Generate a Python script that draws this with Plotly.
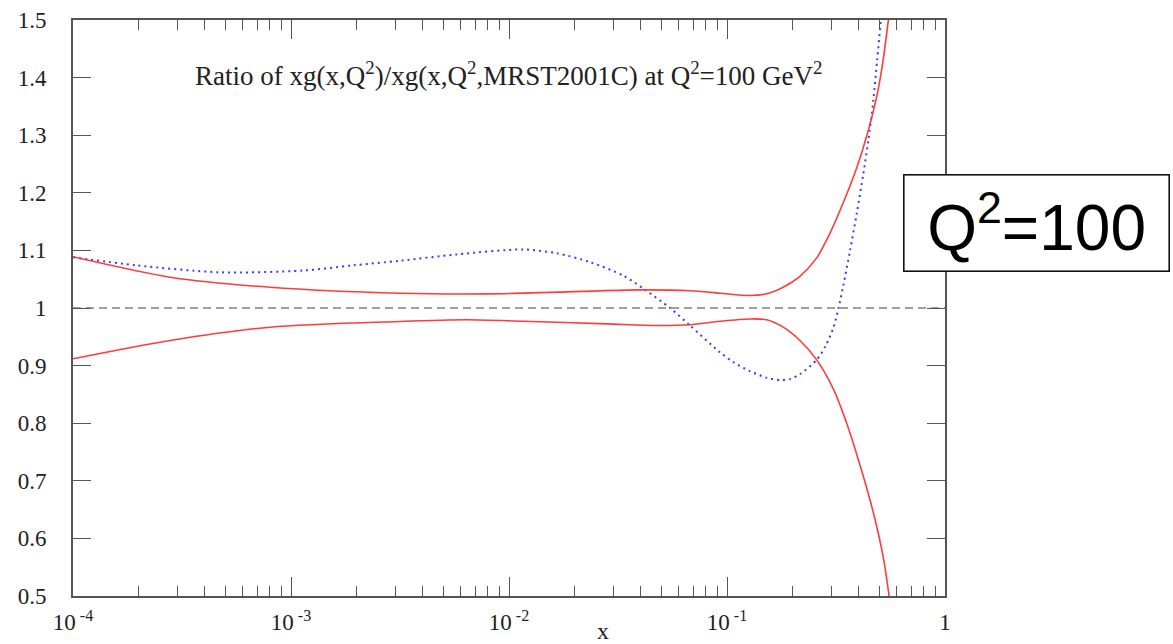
import plotly.graph_objects as go

# Gluon ratio xg(x,Q^2)/xg(x,Q^2,MRST2001C) at Q^2 = 100 GeV^2
# Upper and lower edges of the uncertainty band (red, solid)
band_hi_x = [1e-4, 2.79e-4, 8.02e-4, 3.16e-3, 8.18e-3, 1.66e-2, 3.99e-2, 6.76e-2,
             9.29e-2, 0.128, 0.152, 0.181, 0.216, 0.258, 0.296, 0.345, 0.394,
             0.440, 0.488, 0.520, 0.550, 0.577]
band_hi_y = [1.089, 1.0535, 1.036, 1.0257, 1.0246, 1.0275, 1.0315, 1.030,
             1.0257, 1.0217, 1.0246, 1.036, 1.055, 1.087, 1.129, 1.187, 1.244,
             1.302, 1.37, 1.43, 1.5, 1.56]

band_lo_x = [1e-4, 2.79e-4, 8.02e-4, 3.16e-3, 6.40e-3, 1.16e-2, 2.81e-2, 4.76e-2,
             6.76e-2, 9.29e-2, 0.128, 0.152, 0.181, 0.216, 0.258, 0.307, 0.354,
             0.407, 0.469, 0.521, 0.555, 0.583]
band_lo_y = [0.9118, 0.9436, 0.9667, 0.9766, 0.9795, 0.977, 0.9725, 0.9696,
             0.971, 0.977, 0.981, 0.9795, 0.9667, 0.9436, 0.91, 0.86, 0.80,
             0.728, 0.645, 0.567, 0.498, 0.43]

# Alternative fit (blue, dotted)
alt_x = [1e-4, 1.96e-4, 4.72e-4, 1.135e-3, 1.92e-3, 3.16e-3, 5.75e-3, 1.16e-2,
         1.66e-2, 2.36e-2, 3.35e-2, 4.21e-2, 5.48e-2, 6.76e-2, 9.29e-2, 0.107,
         0.128, 0.152, 0.175, 0.1955, 0.216, 0.258, 0.284, 0.307, 0.325, 0.342,
         0.367, 0.394, 0.422, 0.445, 0.469, 0.488, 0.508, 0.531]
alt_y = [1.088, 1.074, 1.062, 1.065, 1.074, 1.082, 1.093, 1.1016,
         1.095, 1.0795, 1.056, 1.0315, 1.0, 0.9696, 0.923, 0.906,
         0.89, 0.879, 0.875, 0.877, 0.885, 0.91, 0.935, 0.965, 1.0, 1.04,
         1.10, 1.165, 1.233, 1.291, 1.36, 1.43, 1.5, 1.6]

# Reference line at ratio 1
ref_x = [1e-4, 1.0]
ref_y = [1.0, 1.0]

x_tickvals = [1e-4, 1e-3, 1e-2, 1e-1, 1]
x_ticktext = ["10<sup> -4</sup>", "10<sup> -3</sup>", "10<sup> -2</sup>",
              "10<sup> -1</sup>", "1"]
x_minor = [m * 10.0 ** e for e in range(-4, 0) for m in range(2, 10)]
y_tickvals = [0.5, 0.6, 0.7, 0.8, 0.9, 1.0, 1.1, 1.2, 1.3, 1.4, 1.5]
y_ticktext = ["0.5", "0.6", "0.7", "0.8", "0.9", "1", "1.1", "1.2", "1.3", "1.4", "1.5"]

SERIF = "Liberation Serif, Times New Roman, serif"
AXIS_COL = "#555555"
TEXT_COL = "#222222"
RED = "#ff3b3b"
BLUE = "#3b3bff"

fig = go.Figure()
fig.add_trace(go.Scatter(x=ref_x, y=ref_y, mode="lines",
                         line=dict(color="#808080", width=1.6, dash="8px,5px"),
                         hoverinfo="skip"))
fig.add_trace(go.Scatter(x=alt_x, y=alt_y, mode="lines",
                         line=dict(color=BLUE, width=2, dash="2px,4px",
                                   shape="spline", smoothing=0.8)))
fig.add_trace(go.Scatter(x=band_hi_x, y=band_hi_y, mode="lines",
                         line=dict(color=RED, width=1.6, shape="spline", smoothing=0.8)))
fig.add_trace(go.Scatter(x=band_lo_x, y=band_lo_y, mode="lines",
                         line=dict(color=RED, width=1.6, shape="spline", smoothing=0.8)))

fig.update_layout(
    width=1173, height=644,
    margin=dict(l=73, r=228, t=20, b=48),
    paper_bgcolor="white", plot_bgcolor="white",
    showlegend=False,
    font=dict(family=SERIF, size=22, color=TEXT_COL),
)

fig.update_xaxes(
    type="log", range=[-4, 0], automargin=False,
    tickmode="array", tickvals=x_tickvals, ticktext=x_ticktext,
    ticks="inside", ticklen=19, tickwidth=1.2, tickcolor=AXIS_COL,
    minor=dict(tickmode="array", tickvals=x_minor, ticks="inside",
               ticklen=10, tickwidth=1.2, tickcolor=AXIS_COL, showgrid=False),
    showline=True, linecolor=AXIS_COL, linewidth=1.6, mirror="ticks",
    showgrid=False, zeroline=False,
    tickfont=dict(family=SERIF, size=23, color=TEXT_COL),
    ticklabelstandoff=5,
)
fig.update_yaxes(
    range=[0.5, 1.5], automargin=False,
    tickmode="array", tickvals=y_tickvals, ticktext=y_ticktext,
    ticks="inside", ticklen=18, tickwidth=1.2, tickcolor=AXIS_COL,
    showline=True, linecolor=AXIS_COL, linewidth=1.6, mirror="ticks",
    showgrid=False, zeroline=False,
    tickfont=dict(family=SERIF, size=23, color=TEXT_COL),
    ticklabelstandoff=20,
)

# Plot caption inside the frame
fig.add_annotation(
    text="Ratio of xg(x,Q<sup>2</sup>)/xg(x,Q<sup>2</sup>,MRST2001C) at Q<sup>2</sup>=100 GeV<sup>2</sup>",
    xref="paper", yref="paper", x=0.5, y=0.94, showarrow=False,
    font=dict(family=SERIF, size=27, color=TEXT_COL),
)
# Axis title
fig.add_annotation(
    text="x", xref="paper", yref="paper", x=0.608, y=-0.035, yanchor="top",
    showarrow=False, font=dict(family=SERIF, size=24, color=TEXT_COL),
)
# Boxed Q^2 label at the right
fig.add_annotation(
    text="Q<sup>2</sup>=100", xref="paper", yref="paper",
    x=(903 - 73) / 872, y=(596 - 174) / 576, xanchor="left", yanchor="top",
    showarrow=False, width=264, height=95, align="center", valign="middle",
    bgcolor="white", bordercolor="#111111", borderwidth=1.6, borderpad=0,
    font=dict(family="Liberation Sans, Arial, sans-serif", size=64, color="#000000"),
)

fig.write_html("out.html")
